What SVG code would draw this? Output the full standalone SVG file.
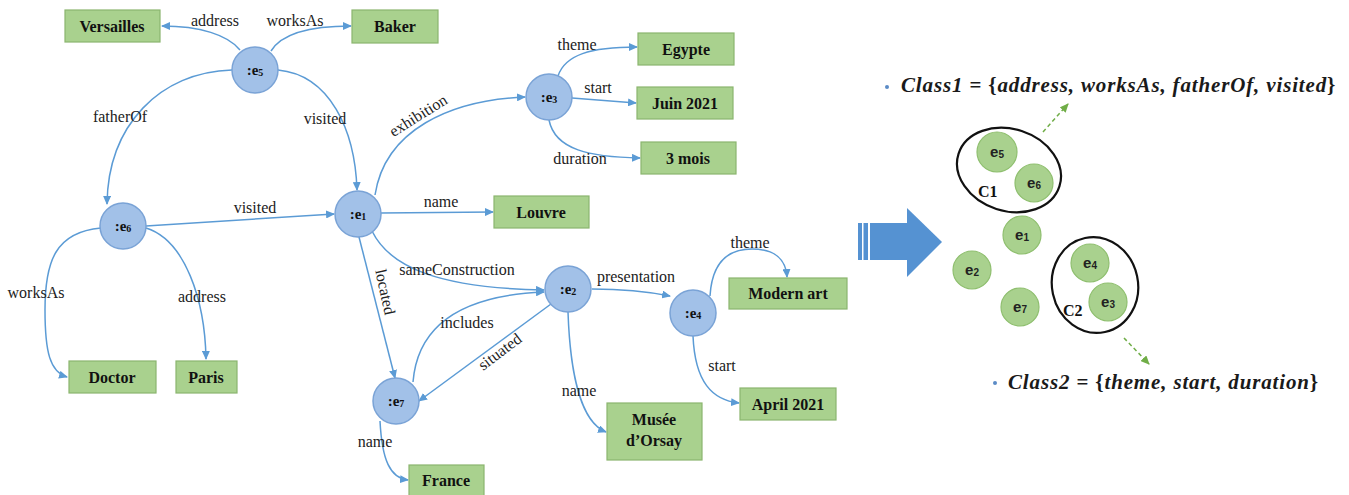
<svg xmlns="http://www.w3.org/2000/svg" width="1349" height="495" viewBox="0 0 1349 495">
<defs>
<marker id="arr" markerWidth="9" markerHeight="8" refX="8" refY="4" orient="auto" markerUnits="userSpaceOnUse">
<path d="M0,0 L9,4 L0,8 Z" fill="#5b9bd5"/>
</marker>
<marker id="garr" markerWidth="9" markerHeight="8" refX="8" refY="4" orient="auto" markerUnits="userSpaceOnUse">
<path d="M0,0 L9,4 L0,8 Z" fill="#70ad47"/>
</marker>
<style>
.edge{fill:none;stroke:#5b9bd5;stroke-width:1.5;marker-end:url(#arr)}
.ent{fill:#a2c1e8;stroke:#7aa3d6;stroke-width:1.5}
.box{fill:#a9d18e;stroke:#8bb56e;stroke-width:1.2}
.lbl{font-family:"Liberation Serif",serif;font-size:16px;fill:#222;text-anchor:middle}
.blbl{font-family:"Liberation Serif",serif;font-size:16px;font-weight:bold;fill:#111;text-anchor:middle}
.nlbl{font-family:"Liberation Serif",serif;font-size:15px;font-weight:bold;fill:#111;text-anchor:middle}
.gc{fill:#a9d18e;stroke:#8fbf6f;stroke-width:1.2}
.glbl{font-family:"Liberation Sans",sans-serif;font-size:15px;font-weight:bold;fill:#222;text-anchor:middle}
.cls{font-family:"Liberation Serif",serif;font-size:21px;font-weight:bold;font-style:italic;fill:#1a1a1a;letter-spacing:0.85px}
.cl{fill:none;stroke:#111;stroke-width:2.2}
.clbl{font-family:"Liberation Serif",serif;font-size:16px;font-weight:bold;fill:#111}
</style>
</defs>
<rect width="1349" height="495" fill="#ffffff"/>

<g id="connectors">
<path class="edge" d="M240,50 C228,35 200,26 162,26"/>
<path class="edge" d="M271,51 C282,33 310,26 351,26"/>
<path class="edge" d="M232,70 C160,72 108,125 107,204"/>
<path class="edge" d="M278,70 C330,75 355,130 357,190"/>
<path class="edge" d="M146,226 L334,214"/>
<path class="edge" d="M101,228 C55,232 45,262 45,310 C45,352 50,372 67,377"/>
<path class="edge" d="M146,228 C185,240 205,300 206,359"/>
<path class="edge" d="M375,195 C385,130 450,100 525,97"/>
<path class="edge" d="M381,213 L493,212"/>
<path class="edge" d="M359,237 L395,378"/>
<path class="edge" d="M372,231 C390,268 440,288 544,290"/>
<path class="edge" d="M413,382 C418,320 470,295 544,292"/>
<path class="edge" d="M551,304 L419,401"/>
<path class="edge" d="M568,312 C570,370 580,422 606,432"/>
<path class="edge" d="M592,289 C630,289 650,292 670,296"/>
<path class="edge" d="M710,296 C712,262 728,249 752,249 C775,249 786,260 787,277"/>
<path class="edge" d="M693,336 C695,382 712,400 739,403"/>
<path class="edge" d="M380,421 C382,460 390,478 408,480"/>
<path class="edge" d="M558,76 C565,55 590,47 637,47"/>
<path class="edge" d="M572,98 L636,103"/>
<path class="edge" d="M549,120 C555,150 590,157 640,158"/>
</g>

<g id="edge-labels">
<text class="lbl" x="215" y="26">address</text>
<text class="lbl" x="295" y="26">worksAs</text>
<text class="lbl" x="120" y="122">fatherOf</text>
<text class="lbl" x="325" y="124">visited</text>
<text class="lbl" x="255" y="213">visited</text>
<text class="lbl" x="36" y="298">worksAs</text>
<text class="lbl" x="202" y="302">address</text>
<text class="lbl" transform="translate(421,120) rotate(-32)">exhibition</text>
<text class="lbl" x="441" y="207">name</text>
<text class="lbl" transform="translate(380,293) rotate(78)">located</text>
<text class="lbl" x="457" y="275">sameConstruction</text>
<text class="lbl" x="467" y="328">includes</text>
<text class="lbl" transform="translate(503,356) rotate(-37)">situated</text>
<text class="lbl" x="579" y="396">name</text>
<text class="lbl" x="636" y="282">presentation</text>
<text class="lbl" x="750" y="248">theme</text>
<text class="lbl" x="722" y="371">start</text>
<text class="lbl" x="375" y="447">name</text>
<text class="lbl" x="577" y="50">theme</text>
<text class="lbl" x="598" y="93">start</text>
<text class="lbl" x="580" y="164">duration</text>
</g>

<g id="e5"><circle class="ent" cx="255" cy="70" r="23"/><text class="nlbl" x="255" y="75">:e<tspan font-size="10" dy="1">5</tspan></text></g>
<g id="e6"><circle class="ent" cx="123" cy="226" r="23"/><text class="nlbl" x="123" y="231">:e<tspan font-size="10" dy="1">6</tspan></text></g>
<g id="e1"><circle class="ent" cx="358" cy="214" r="23"/><text class="nlbl" x="358" y="219">:e<tspan font-size="10" dy="1">1</tspan></text></g>
<g id="e3"><circle class="ent" cx="549" cy="97" r="23"/><text class="nlbl" x="549" y="102">:e<tspan font-size="10" dy="1">3</tspan></text></g>
<g id="e2"><circle class="ent" cx="568" cy="289" r="23"/><text class="nlbl" x="568" y="294">:e<tspan font-size="10" dy="1">2</tspan></text></g>
<g id="e4"><circle class="ent" cx="693" cy="313" r="23"/><text class="nlbl" x="693" y="318">:e<tspan font-size="10" dy="1">4</tspan></text></g>
<g id="e7"><circle class="ent" cx="396" cy="401" r="23"/><text class="nlbl" x="396" y="406">:e<tspan font-size="10" dy="1">7</tspan></text></g>

<g id="versailles"><rect class="box" x="65" y="10" width="95" height="32"/><text class="blbl" x="112" y="32">Versailles</text></g>
<g id="baker"><rect class="box" x="352" y="10" width="86" height="33"/><text class="blbl" x="395" y="32">Baker</text></g>
<g id="egypte"><rect class="box" x="638" y="33" width="96" height="32"/><text class="blbl" x="686" y="55">Egypte</text></g>
<g id="juin"><rect class="box" x="637" y="87" width="96" height="32"/><text class="blbl" x="685" y="109">Juin 2021</text></g>
<g id="mois"><rect class="box" x="641" y="142" width="95" height="32"/><text class="blbl" x="688" y="164">3 mois</text></g>
<g id="louvre"><rect class="box" x="494" y="196" width="95" height="32"/><text class="blbl" x="541" y="218">Louvre</text></g>
<g id="doctor"><rect class="box" x="69" y="361" width="87" height="32"/><text class="blbl" x="112" y="383">Doctor</text></g>
<g id="paris"><rect class="box" x="176" y="361" width="61" height="32"/><text class="blbl" x="206" y="383">Paris</text></g>
<g id="modernart"><rect class="box" x="729" y="278" width="118" height="31"/><text class="blbl" x="788" y="299">Modern art</text></g>
<g id="april"><rect class="box" x="740" y="388" width="96" height="32"/><text class="blbl" x="788" y="410">April 2021</text></g>
<g id="orsay"><rect class="box" x="607" y="403" width="95" height="57"/><text class="blbl" x="654" y="425">Musée</text><text class="blbl" x="654" y="446">d’Orsay</text></g>
<g id="france"><rect class="box" x="409" y="465" width="75" height="32"/><text class="blbl" x="446" y="486">France</text></g>

<g id="big-arrow" fill="#5592d2">
<rect x="858" y="223" width="4" height="37"/>
<rect x="863.5" y="223" width="4.5" height="37"/>
<rect x="870" y="223" width="38" height="37"/>
<polygon points="907,208 942,242 907,277"/>
</g>

<g id="class1">
<circle cx="887" cy="87" r="2" fill="#5b8bc6"/>
<text class="cls" x="901" y="92">Class1<tspan font-style="normal"> = {</tspan>address, worksAs, fatherOf, visited<tspan font-style="normal">}</tspan></text>
</g>
<g id="class2">
<circle cx="995" cy="383" r="2" fill="#5b8bc6"/>
<text class="cls" x="1008" y="389">Class2<tspan font-style="normal"> = {</tspan>theme, start, duration<tspan font-style="normal">}</tspan></text>
</g>

<g id="dashed-arrows">
<path d="M1043,132 L1068,104" fill="none" stroke="#70ad47" stroke-width="1.5" stroke-dasharray="4,3" marker-end="url(#garr)"/>
<path d="M1124,338 L1149,364" fill="none" stroke="#70ad47" stroke-width="1.5" stroke-dasharray="4,3" marker-end="url(#garr)"/>
</g>

<g id="C1">
<ellipse class="cl" cx="1009" cy="170" rx="53" ry="41" transform="rotate(18 1009 170)"/>
<text class="clbl" x="978" y="197">C1</text>
</g>
<g id="C2">
<ellipse class="cl" cx="1095" cy="285" rx="43" ry="48" transform="rotate(-12 1095 285)"/>
<text class="clbl" x="1063" y="316">C2</text>
</g>

<g id="g-e5"><circle class="gc" cx="997" cy="152" r="20"/><text class="glbl" x="997" y="157">e<tspan font-size="10" dy="1">5</tspan></text></g>
<g id="g-e6"><circle class="gc" cx="1034" cy="183" r="19"/><text class="glbl" x="1034" y="188">e<tspan font-size="10" dy="1">6</tspan></text></g>
<g id="g-e1"><circle class="gc" cx="1022" cy="235" r="19"/><text class="glbl" x="1022" y="240">e<tspan font-size="10" dy="1">1</tspan></text></g>
<g id="g-e2"><circle class="gc" cx="972" cy="270" r="19"/><text class="glbl" x="972" y="275">e<tspan font-size="10" dy="1">2</tspan></text></g>
<g id="g-e7"><circle class="gc" cx="1020" cy="307" r="19"/><text class="glbl" x="1020" y="312">e<tspan font-size="10" dy="1">7</tspan></text></g>
<g id="g-e4"><circle class="gc" cx="1090" cy="263" r="19"/><text class="glbl" x="1090" y="268">e<tspan font-size="10" dy="1">4</tspan></text></g>
<g id="g-e3"><circle class="gc" cx="1108" cy="302" r="19"/><text class="glbl" x="1108" y="307">e<tspan font-size="10" dy="1">3</tspan></text></g>
</svg>
